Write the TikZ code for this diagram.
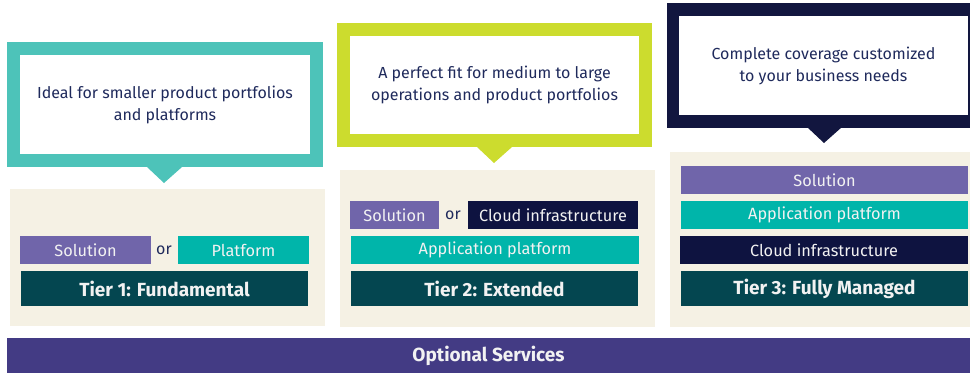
\documentclass[tikz,border=0pt]{standalone}
\usepackage{fontspec}
\setmainfont{Fira Sans}
\definecolor{calloutA}{HTML}{4DC3B9}
\definecolor{calloutB}{HTML}{CCDC2E}
\definecolor{calloutC}{HTML}{12163F}
\definecolor{beige}{HTML}{F5F1E4}
\definecolor{solcol}{HTML}{7065AA}
\definecolor{appcol}{HTML}{00B5AA}
\definecolor{cloudcol}{HTML}{0E1340}
\definecolor{tiercol}{HTML}{044650}
\definecolor{optcol}{HTML}{433B84}
\definecolor{txtdark}{HTML}{1F2A5C}
\definecolor{txtlight}{HTML}{F2F2F2}
\tikzset{
  px/.style={x=1pt,y=-1pt},
  rbox/.style n args={2}{anchor=north west,inner sep=0pt,outer sep=0pt,minimum width=#1,minimum height=#2},
  whitebox/.style={fill=white,text=txtdark,font=\fontsize{16}{22}\selectfont,align=center},
  layer/.style={text=txtlight,font=\fontsize{16.3}{18}\selectfont},
  tierbox/.style={fill=tiercol,text=txtlight,font=\fontsize{19}{21}\selectfont\bfseries},
  ortext/.style={text=txtdark,font=\fontsize{16}{18}\selectfont,inner sep=0pt},
}
\begin{document}
\begin{tikzpicture}[px]
\useasboundingbox (0,0) rectangle (970,375);
% ---------- Panel 1 ----------
\node[rbox={315pt}{137pt},fill=beige] (beige1) at (10,189) {};
\node[rbox={316pt}{125pt},fill=calloutA] (out1) at (7,42) {};
\fill[calloutA] (147,167) -- (164,183) -- (182,167) -- cycle;
\node[rbox={290pt}{99pt},whitebox] (in1) at (20,55) {Ideal for smaller product portfolios\\and platforms};
\node[rbox={131pt}{28pt},layer,fill=solcol] (sol1) at (20,236) {Solution};
\node[ortext] (or1) at (164,250) {or};
\node[rbox={131pt}{28pt},layer,fill=appcol] (plat1) at (178,236) {Platform};
\node[rbox={287pt}{35pt},tierbox] (tier1) at (21,271) {Tier 1: Fundamental};
% ---------- Panel 2 ----------
\node[rbox={315pt}{157pt},fill=beige] (beige2) at (340,170) {};
\node[rbox={315pt}{124pt},fill=calloutB] (out2) at (337,23) {};
\fill[calloutB] (477,147) -- (494,163) -- (512,147) -- cycle;
\node[rbox={289pt}{98pt},whitebox] (in2) at (350,36) {A perfect fit for medium to large\\operations and product portfolios};
\node[rbox={89pt}{28pt},layer,fill=solcol] (sol2) at (350,201) {Solution};
\node[ortext] (or2) at (453,215) {or};
\node[rbox={170pt}{28pt},layer,fill=cloudcol] (cloud2) at (468,201) {Cloud infrastructure};
\node[rbox={288pt}{28pt},layer,fill=appcol] (app2) at (351,236) {Application platform};
\node[rbox={287pt}{35pt},tierbox] (tier2) at (351,271) {Tier 2: Extended};
% ---------- Panel 3 ----------
\node[rbox={300pt}{175pt},fill=beige] (beige3) at (670,152) {};
\node[rbox={303pt}{125pt},fill=calloutC] (out3) at (667,3) {};
\fill[calloutC] (807,127) -- (824,143) -- (842,127) -- cycle;
\node[rbox={289pt}{99pt},whitebox] (in3) at (679,16) {Complete coverage customized\\to your business needs};
\node[rbox={287pt}{28pt},layer,fill=solcol] (sol3) at (681,166) {Solution};
\node[rbox={287pt}{28pt},layer,fill=appcol] (app3) at (681,201) {Application platform};
\node[rbox={288pt}{28pt},layer,fill=cloudcol] (cloud3) at (680,236) {Cloud infrastructure};
\node[rbox={287pt}{35pt},tierbox] (tier3) at (681,271) {Tier 3: Fully Managed};
% ---------- Optional services ----------
\node[rbox={963pt}{35pt},fill=optcol,text=txtlight,font=\fontsize{19}{21}\selectfont\bfseries] (opt) at (7,338) {Optional Services};
\end{tikzpicture}
\end{document}
